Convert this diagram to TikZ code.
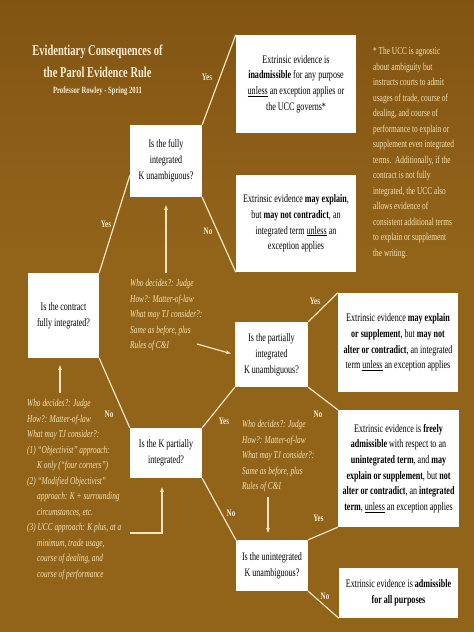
\documentclass[tikz,border=0pt]{standalone}
\usepackage{fontspec}
\setmainfont{Liberation Serif}[FakeStretch=0.7]
\usepackage{tikz}
\usetikzlibrary{positioning,calc,arrows.meta}

\definecolor{cream}{RGB}{248,238,214}
\definecolor{pale}{RGB}{242,228,180}
\definecolor{wire}{RGB}{244,229,192}
\definecolor{topbrown}{RGB}{90,47,8}
\definecolor{upbrown}{RGB}{128,82,18}
\definecolor{midbrown}{RGB}{146,100,26}
\definecolor{lowbrown}{RGB}{92,54,13}
\pgfdeclareverticalshading{slide}{100bp}{color(0bp)=(lowbrown); color(25bp)=(midbrown);
  color(55bp)=(midbrown); color(78bp)=(upbrown); color(100bp)=(topbrown)}

\tikzset{
  ask/.style={rectangle, fill=white, inner sep=0pt, align=center, text=black,
    font=\fontsize{11.5}{16}\selectfont},
  verdict/.style={ask, font=\fontsize{11.5}{15.6}\selectfont},
  answer/.style={text=cream, inner sep=0pt, font=\bfseries\fontsize{10}{12}\selectfont},
  aside/.style={text=pale, inner sep=0pt, align=left, anchor=north west,
    font=\itshape\fontsize{10.5}{15.5}\selectfont},
  link/.style={draw=wire, line width=1.2pt},
  pointer/.style={draw=wire, line width=1.2pt, -{Stealth[length=5pt,width=4pt]}}
}

\begin{document}
\begin{tikzpicture}[x=1pt,y=-1pt]
  \useasboundingbox (0,0) rectangle (474,632);
  \shade[shading=slide] (0,0) rectangle (474,632);

  \node[text=cream, align=center, inner sep=0pt, anchor=north,
    font=\bfseries\fontsize{15}{22}\selectfont] (heading) at (97.5,44.5)
    {Evidentiary Consequences of\\the Parol Evidence Rule};
  \node[text=cream, inner sep=0pt, font=\bfseries\fontsize{9.5}{12}\selectfont,
    below=9pt of heading] (byline) {Professor Rowley - Spring 2011};

  \node[ask, minimum width=71pt, minimum height=85pt] (contract) at (63.5,315.5)
    {Is the contract\\fully integrated?};
  \node[ask, minimum width=72pt, minimum height=72pt] (full) at (166,161)
    {Is the fully\\integrated\\K unambiguous?};
  \node[ask, minimum width=73pt, minimum height=65pt] (part) at (271.5,354.5)
    {Is the partially\\integrated\\K unambiguous?};
  \node[ask, minimum width=72pt, minimum height=50pt] (partint) at (166,453)
    {Is the K partially\\integrated?};
  \node[ask, minimum width=72pt, minimum height=51pt] (unint) at (272,565.5)
    {Is the unintegrated\\K unambiguous?};

  \node[verdict, minimum width=120pt, minimum height=98pt] (inadm) at (296,84)
    {Extrinsic evidence is\\\textbf{inadmissible} for any purpose\\\underline{unless} an exception applies or\\the UCC governs*};
  \node[verdict, minimum width=120pt, minimum height=97pt] (explain) at (296,223.5)
    {Extrinsic evidence \textbf{may explain},\\but \textbf{may not contradict}, an\\integrated term \underline{unless} an\\exception applies};
  \node[verdict, minimum width=120pt, minimum height=99pt] (supp) at (398,342.5)
    {Extrinsic evidence \textbf{may explain}\\\textbf{or supplement}, but \textbf{may not}\\\textbf{alter or contradict}, an integrated\\term \underline{unless} an exception applies};
  \node[verdict, minimum width=121pt, minimum height=117pt] (freely) at (398.5,468.5)
    {Extrinsic evidence is \textbf{freely}\\\textbf{admissible} with respect to an\\\textbf{unintegrated term}, and \textbf{may}\\\textbf{explain or supplement}, but \textbf{not}\\\textbf{alter or contradict}, an \textbf{integrated}\\\textbf{term}, \underline{unless} an exception applies};
  \node[verdict, minimum width=119pt, minimum height=50pt] (allpurp) at (398.5,593)
    {Extrinsic evidence is \textbf{admissible}\\\textbf{for all purposes}};

  \node[aside, font=\fontsize{10.5}{15.5}\selectfont] (ucc) at (373,47.5)
    {* The UCC is agnostic\\about ambiguity but\\instructs courts to admit\\usages of trade, course of\\dealing, and course of\\performance to explain or\\supplement even integrated\\terms.\ \ Additionally, if the\\contract is not fully\\integrated, the UCC also\\allows evidence of\\consistent additional terms\\to explain or supplement\\the writing.};
  \node[aside] (who1) at (130,279.5)
    {Who decides?: Judge\\How?: Matter-of-law\\What may TJ consider?:\\Same as before, plus\\Rules of C\&I};
  \node[aside] (who2) at (27,399.5)
    {Who decides?: Judge\\How?: Matter-of-law\\What may TJ consider?:\\(1) ``Objectivist'' approach:\\\hspace*{10pt}K only (``four corners'')\\(2) ``Modified Objectivist''\\\hspace*{10pt}approach: K + surrounding\\\hspace*{10pt}circumstances, etc.\\(3) UCC approach: K plus, at a\\\hspace*{10pt}minimum, trade usage,\\\hspace*{10pt}course of dealing, and\\\hspace*{10pt}course of performance};
  \node[aside] (who3) at (242,420.5)
    {Who decides?: Judge\\How?: Matter-of-law\\What may TJ consider?:\\Same as before, plus\\Rules of C\&I};

  \path[link]
    (full.north east) edge (inadm.north west)
    (full.south east) edge (explain.south west)
    (contract.north east) edge ($(full.south west)!0.3!(full.north west)$)
    (contract.south east) edge (partint.north west)
    (partint.north east) edge (part.south west)
    (partint.south east) edge (unint.north west)
    (part.north east) edge (supp.north west)
    (part.south east) edge (freely.north west)
    (unint.north east) edge (freely.south west)
    (unint.south east) edge (allpurp.south west);

  \coordinate (who1tail) at (166,273);
  \coordinate (rulestail) at (197,344);
  \coordinate (who2tail) at (60,393);
  \coordinate (cornertail) at (130,533);
  \coordinate (who3tail) at (268,497);
  \draw[pointer] (who1tail) -- ([yshift=-8pt]full.south);
  \draw[pointer] (rulestail) -- ([xshift=-4pt,yshift=1pt]part.west);
  \draw[pointer] (who2tail) -- ([xshift=-3.5pt,yshift=-7pt]contract.south);
  \draw[pointer] (cornertail) -| ([xshift=-4pt,yshift=-9pt]partint.south);
  \draw[pointer] (who3tail) -- ([xshift=-4pt,yshift=7pt]unint.north);

  \node[answer] (yes1) at (207,77) {Yes};
  \node[answer] (no1) at (208,231) {No};
  \node[answer] (yes2) at (106,224) {Yes};
  \node[answer] (no2) at (109,414) {No};
  \node[answer] (yes3) at (224,421) {Yes};
  \node[answer] (no3) at (231,513) {No};
  \node[answer] (yes4) at (315,301) {Yes};
  \node[answer] (no4) at (318,414) {No};
  \node[answer] (yes5) at (318.5,518) {Yes};
  \node[answer] (no5) at (325,596) {No};
\end{tikzpicture}
\end{document}
